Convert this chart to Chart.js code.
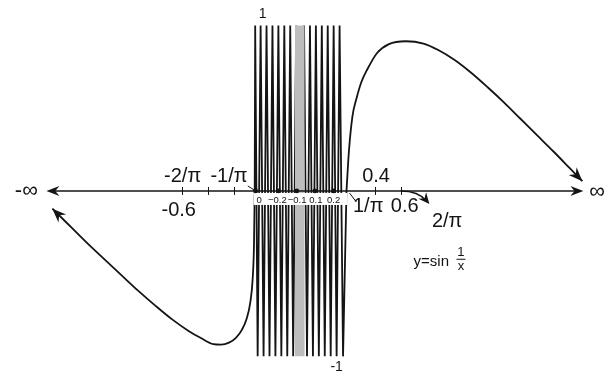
<!DOCTYPE html>
<html>
<head>
<meta charset="utf-8">
<title>y = sin(1/x)</title>
<script src="https://cdn.jsdelivr.net/npm/chart.js@4/dist/chart.umd.min.js"></script>
<style>
  html, body { margin: 0; padding: 0; background: #fff; }
  canvas { display: block; }
</style>
</head>
<body>
<canvas id="chart" width="615" height="377"></canvas>
<script>
// x runs along a squeezed axis (-inf .. 0 .. +inf laid out over 0..615), y is sin(1/x)
const leftTailX = [49, 68, 87, 104, 120, 137, 153, 170, 187, 200, 212, 220, 228, 235, 241, 246, 249.5, 252, 253.3, 254];
const leftTailY = [-0.107, -0.219, -0.331, -0.426, -0.515, -0.609, -0.692, -0.775, -0.846, -0.891, -0.926, -0.929, -0.917, -0.888, -0.84, -0.769, -0.675, -0.527, -0.32, 0];

const leftWaveX = [254, 254.5, 257, 260, 263, 266, 269, 272, 275, 278, 281, 284, 287, 290, 293, 296];
const leftWaveY = [0, 1, -1, 1, -1, 1, -1, 1, -1, 1, -1, 1, -1, 1, -1, 1];

const rightWaveX = [304, 307, 310, 313, 316, 319, 322, 325, 328, 331, 334, 337, 340, 343.5, 347];
const rightWaveY = [1, -1, 1, -1, 1, -1, 1, -1, 1, -1, 1, -1, 1, -1, 0];

const rightTailX = [347, 349.5, 353, 357, 362, 368, 378, 390, 407, 425, 440, 457, 473, 490, 507, 523, 540, 557, 573, 586];
const rightTailY = [0, 0.243, 0.45, 0.556, 0.657, 0.734, 0.834, 0.888, 0.905, 0.891, 0.852, 0.79, 0.716, 0.627, 0.533, 0.438, 0.337, 0.237, 0.139, 0.059];

// band near 0 where the oscillation becomes too dense to draw
const denseBandX = [294.7, 304.7];

// marked points on the axis and their small labels
const axisDotX = [255, 278, 296.7, 315, 334];
const axisDotLabels = ['0', '\u22120.2', '\u22120.1', '0.1', '0.2'];
const axisDotLabelX = [258.5, 277, 297, 316, 334];

const tickX = [180, 207, 233, 376, 402];
const axisEnds = [43, 587];

const pts = (xs, ys) => xs.map((x, i) => ({ x, y: ys[i] }));
const INK = '#141414';
const FONT = '"Liberation Sans", Arial, sans-serif';

// text placed along the axis: x in axis units, y in value units
const labels = [
  { t: '-2/\u03c0', x: 181, y: 0.089, s: 20 },
  { t: '-1/\u03c0', x: 228, y: 0.089, s: 20 },
  { t: '-0.6', x: 177, y: -0.118, s: 20 },
  { t: '0.4', x: 377, y: 0.089, s: 20 },
  { t: '1/\u03c0', x: 369, y: -0.095, s: 20 },
  { t: '0.6', x: 406, y: -0.095, s: 20 },
  { t: '2/\u03c0', x: 449, y: -0.183, s: 20 },
  { t: '1', x: 262, y: 1.071, s: 14 },
  { t: '-1', x: 337, y: -1.065, s: 14 },
  { t: '\u221e', x: 601, y: -0.003, s: 22 }
];

function arrowHead(ctx, x, y, ang, len, half) {
  ctx.save();
  ctx.translate(x, y);
  ctx.rotate(ang);
  ctx.beginPath();
  ctx.moveTo(0, 0);
  ctx.lineTo(-len, -half);
  ctx.lineTo(-len * 0.68, 0);
  ctx.lineTo(-len, half);
  ctx.closePath();
  ctx.fill();
  ctx.restore();
}

const sketch = {
  id: 'sketch',
  beforeDatasetDraw(chart, args) {
    if (args.index !== 5) return;
    const { ctx, scales: { x, y } } = chart;
    const y0 = y.getPixelForValue(0);
    ctx.save();
    // white strip behind the small labels under the axis
    ctx.fillStyle = '#fff';
    ctx.fillRect(x.getPixelForValue(253), y0 + 2, x.getPixelForValue(348) - x.getPixelForValue(253), 12);
    // axis line
    ctx.strokeStyle = INK;
    ctx.fillStyle = INK;
    ctx.lineWidth = 1.4;
    const xa = x.getPixelForValue(axisEnds[0]), xb = x.getPixelForValue(axisEnds[1]);
    ctx.beginPath();
    ctx.moveTo(xa + 8, y0);
    ctx.lineTo(xb - 8, y0);
    ctx.stroke();
    arrowHead(ctx, xa, y0, Math.PI, 13, 5);
    arrowHead(ctx, xb, y0, 0, 13, 5);
    ctx.lineWidth = 1;
    tickX.forEach(v => {
      const px = Math.round(x.getPixelForValue(v)) + 0.5;
      ctx.beginPath();
      ctx.moveTo(px, y0 - 4);
      ctx.lineTo(px, y0 + 4);
      ctx.stroke();
    });
    ctx.restore();
  },
  afterDatasetsDraw(chart) {
    const { ctx, scales: { x, y } } = chart;
    const y0 = y.getPixelForValue(0);
    ctx.save();
    ctx.fillStyle = INK;
    ctx.strokeStyle = INK;

    // arrowheads at both tails
    const tip = (xs, ys, i, j) => {
      const ax = x.getPixelForValue(xs[i]), ay = y.getPixelForValue(ys[i]);
      const bx = x.getPixelForValue(xs[j]), by = y.getPixelForValue(ys[j]);
      arrowHead(ctx, ax, ay, Math.atan2(ay - by, ax - bx), 14, 5.5);
    };
    tip(leftTailX, leftTailY, 0, 1);
    tip(rightTailX, rightTailY, rightTailX.length - 1, rightTailX.length - 2);

    // small curved arrow from the 0.6 tick towards 2/pi
    ctx.lineWidth = 1.4;
    const sx = x.getPixelForValue(402), ex = x.getPixelForValue(431);
    ctx.beginPath();
    ctx.moveTo(sx, y0);
    ctx.quadraticCurveTo(x.getPixelForValue(420), y0, ex - 3, y0 + 10);
    ctx.stroke();
    arrowHead(ctx, ex, y0 + 13, Math.atan2(1, 0.85), 11, 5);

    // leader lines to the -1/pi and 1/pi labels
    ctx.lineWidth = 1;
    ctx.beginPath();
    ctx.moveTo(x.getPixelForValue(247), y0 - 5);
    ctx.lineTo(x.getPixelForValue(255), y0);
    ctx.moveTo(x.getPixelForValue(350), y0 + 2);
    ctx.lineTo(x.getPixelForValue(357), y0 + 11);
    ctx.stroke();

    // labels
    ctx.textAlign = 'center';
    ctx.textBaseline = 'middle';
    labels.forEach(l => {
      ctx.font = l.s + 'px ' + FONT;
      ctx.fillText(l.t, x.getPixelForValue(l.x), y.getPixelForValue(l.y));
    });
    ctx.font = '22px ' + FONT;
    ctx.textAlign = 'left';
    ctx.fillText('-\u221e', x.getPixelForValue(11), y0);

    ctx.textAlign = 'center';
    ctx.font = '9.5px ' + FONT;
    axisDotLabels.forEach((t, i) => {
      ctx.fillText(t, x.getPixelForValue(axisDotLabelX[i]), y0 + 9);
    });

    // formula caption
    ctx.font = '15px ' + FONT;
    ctx.textAlign = 'left';
    ctx.fillText('y=sin', x.getPixelForValue(415), y.getPixelForValue(-0.43));
    ctx.font = '13px ' + FONT;
    ctx.textAlign = 'center';
    const fx = x.getPixelForValue(463), fy = y.getPixelForValue(-0.41);
    ctx.fillText('1', fx, fy - 6);
    ctx.fillText('x', fx, fy + 8);
    ctx.lineWidth = 1;
    ctx.beginPath();
    ctx.moveTo(fx - 4.5, fy + 0.5);
    ctx.lineTo(fx + 4.5, fy + 0.5);
    ctx.stroke();
    ctx.restore();
  }
};

const curve = (xs, ys, extra) => Object.assign({
  data: pts(xs, ys),
  showLine: true,
  borderColor: INK,
  borderWidth: 1.8,
  pointRadius: 0,
  fill: false,
  order: 3
}, extra);

new Chart(document.getElementById('chart'), {
  type: 'scatter',
  data: {
    datasets: [
      curve(leftTailX, leftTailY, { cubicInterpolationMode: 'monotone' }),
      curve(leftWaveX, leftWaveY, { borderWidth: 1.8, tension: 0 }),
      curve(rightWaveX, rightWaveY, { borderWidth: 1.8, tension: 0 }),
      curve(rightTailX, rightTailY, { cubicInterpolationMode: 'monotone' }),
      {
        data: pts(denseBandX, [1, 1]),
        showLine: true,
        borderWidth: 0,
        borderColor: 'rgba(0,0,0,0)',
        backgroundColor: '#bdbdbd',
        pointRadius: 0,
        fill: { value: -1 },
        order: 2
      },
      {
        data: axisDotX.map(v => ({ x: v, y: 0 })),
        showLine: false,
        pointRadius: 2.4,
        pointBackgroundColor: INK,
        pointBorderWidth: 0,
        order: 1
      }
    ]
  },
  options: {
    responsive: false,
    animation: false,
    events: [],
    layout: { padding: 0 },
    scales: {
      x: { type: 'linear', display: false, min: 0, max: 615 },
      y: { type: 'linear', display: false, min: -1.1006, max: 1.1302 }
    },
    plugins: {
      legend: { display: false },
      tooltip: { enabled: false }
    }
  },
  plugins: [sketch]
});
</script>
</body>
</html>
